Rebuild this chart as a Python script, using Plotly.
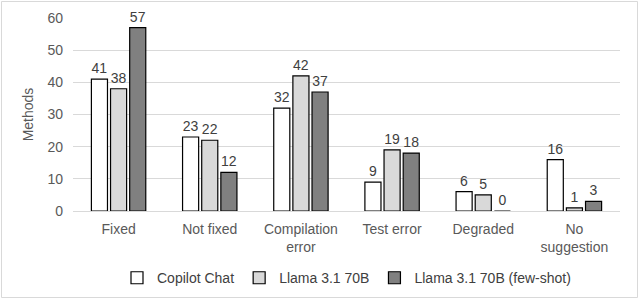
import plotly.graph_objects as go

categories = ["Fixed", "Not fixed", "Compilation<br>error", "Test error", "Degraded", "No<br>suggestion"]
copilot = [41, 23, 32, 9, 6, 16]
llama = [38, 22, 42, 19, 5, 1]
llama_fs = [57, 12, 37, 18, 0, 3]
series = [
    ("Copilot Chat", copilot, "#ffffff"),
    ("Llama 3.1 70B", llama, "#d9d9d9"),
    ("Llama 3.1 70B (few-shot)", llama_fs, "#808080"),
]

FONT = "Liberation Sans, Arial"
fig = go.Figure()
for name, vals, col in series:
    fig.add_trace(go.Bar(
        x=categories, y=vals, name=name,
        marker=dict(color=col, line=dict(color="#000000", width=1.2)),
        text=[str(v) for v in vals], textposition="outside",
        textfont=dict(family=FONT, size=14, color="#404040"),
        cliponaxis=False,
    ))

L, R, T, B = 73, 20, 18, 89
W, H = 640, 300
pw, ph = W - L - R, H - T - B

fig.update_layout(
    width=W, height=H,
    margin=dict(l=L, r=R, t=T, b=B, autoexpand=False),
    paper_bgcolor="white", plot_bgcolor="white",
    barmode="group", bargap=0.37, bargroupgap=0.16,
    font=dict(family=FONT, size=14, color="#595959"),
    showlegend=True,
    legend=dict(orientation="h", x=0.5, xanchor="center", y=-0.265, yanchor="top",
                font=dict(size=14, color="#404040"), itemwidth=30, traceorder="normal",
                tracegroupgap=0),
    yaxis=dict(range=[0, 60], dtick=10, showgrid=True, gridcolor="#d9d9d9", gridwidth=1,
               zeroline=True, zerolinecolor="#d9d9d9", zerolinewidth=1, automargin=False,
               showline=False, ticks="", ticklen=0, ticklabelstandoff=9,
               tickfont=dict(size=14, color="#595959"),
               title=dict(text="Methods", font=dict(size=14, color="#595959"), standoff=10)),
    xaxis=dict(showline=True, linecolor="#d9d9d9", automargin=False,
               ticks="outside", ticklen=5, tickcolor="rgba(0,0,0,0)",
               tickfont=dict(size=14, color="#595959")),
    shapes=[dict(type="rect", xref="paper", yref="paper",
                 x0=(1.5 - L) / pw, x1=(W - 2.5 - L) / pw,
                 y0=-(H - 2.5 - (T + ph)) / ph, y1=1 + (T - 1.5) / ph,
                 line=dict(color="#d9d9d9", width=1), fillcolor="rgba(0,0,0,0)", layer="below")],
)

fig.write_html("out.html", config={"displayModeBar": False},
               post_script="document.body.style.margin='0';document.body.style.overflow='hidden';")
